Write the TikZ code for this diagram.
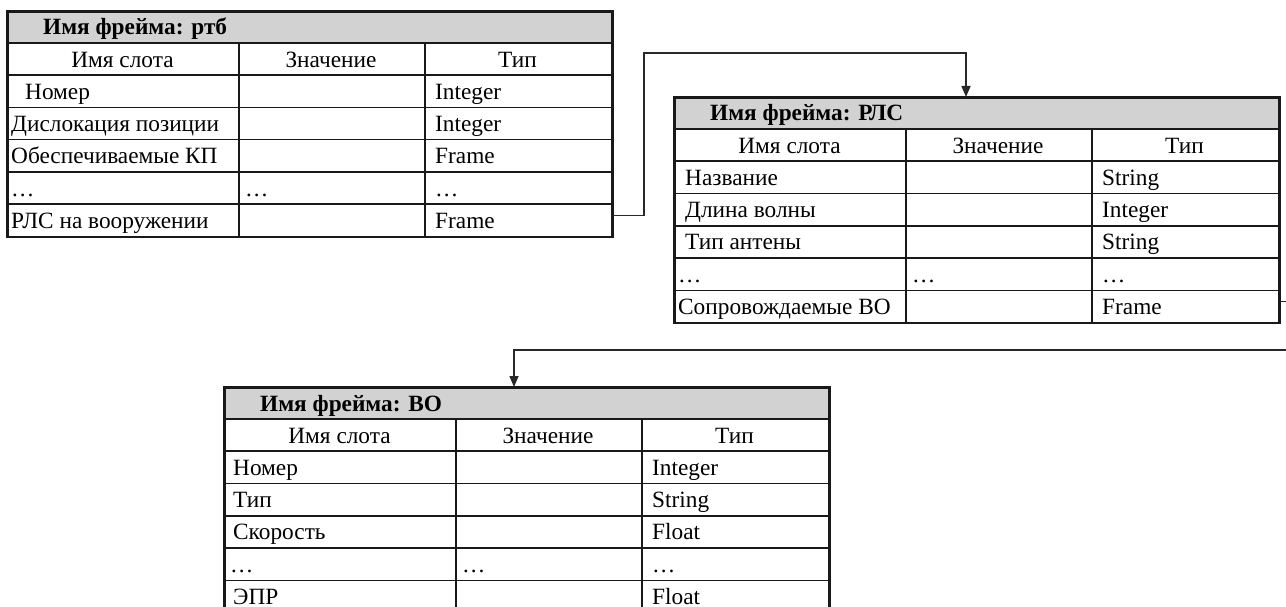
\documentclass[tikz,border=0pt]{standalone}
\usepackage{fontspec}
\setmainfont{Liberation Serif}
\usetikzlibrary{arrows.meta}
\definecolor{hdrgray}{RGB}{210,210,210}
\definecolor{linegray}{RGB}{25,25,25}
\definecolor{conngray}{RGB}{40,40,40}
\tikzset{
  cellbox/.style={draw=linegray, line width=1.6pt, anchor=north west, inner sep=0pt, minimum height=32.3pt},
  hdrbox/.style={draw=linegray, line width=1.6pt, fill=hdrgray, anchor=north west, inner sep=0pt, minimum width=604pt, minimum height=31pt},
  txt/.style={anchor=base west, inner sep=0pt, font=\fontsize{23.3}{27}\selectfont},
  ctxt/.style={anchor=base, inner sep=0pt, font=\fontsize{23.3}{27}\selectfont},
  ttl/.style={anchor=base west, inner sep=0pt, font=\fontsize{23.3}{27}\selectfont\bfseries},
  outer/.style={draw=linegray, line width=2.1pt},
  conn/.style={draw=conngray, line width=1.5pt},
  arr/.style={-{Triangle[length=11pt,width=9pt]}}
}
% #1 name, #2 left, #3 top, #4 title, #5 left pad, #6 rows
\newcommand{\ftable}[6]{%
  \node[hdrbox] (#1h) at (#2,#3) {};
  \node[ttl] (#1ht) at (#2+36,#3+24) {#4};
  \node[cellbox, minimum width=231pt] (#1r1-a) at (#2,#3+31) {};
  \node[cellbox, minimum width=186pt] (#1r1-b) at (#2+231,#3+31) {};
  \node[cellbox, minimum width=187pt] (#1r1-c) at (#2+417,#3+31) {};
  \node[ctxt] (#1r1-at) at (#2+115.5,#3+56.5) {Имя слота};
  \node[ctxt] (#1r1-bt) at (#2+324,#3+56.5) {Значение};
  \node[ctxt] (#1r1-ct) at (#2+510.5,#3+56.5) {Тип};
  \foreach \a/\b/\c [count=\i from 2] in {#6} {
    \pgfmathsetmacro\yy{#3+31+(\i-1)*32.3}
    \node[cellbox, minimum width=231pt] (#1r\i-a) at (#2,\yy) {};
    \node[cellbox, minimum width=186pt] (#1r\i-b) at (#2+231,\yy) {};
    \node[cellbox, minimum width=187pt] (#1r\i-c) at (#2+417,\yy) {};
    \node[txt] (#1r\i-at) at (#2+#5,\yy+25) {\a};
    \node[txt] (#1r\i-bt) at (#2+238,\yy+25) {\b};
    \node[txt] (#1r\i-ct) at (#2+428,\yy+25) {\c};
  }
  \draw[outer] (#1h.north west) rectangle (#1r6-c.south east);
}
\begin{document}
\begin{tikzpicture}[x=1pt,y=-1pt]
\useasboundingbox (0,0) rectangle (1286,607);
\clip (0,0) rectangle (1286,607);
\fill[white] (0,0) rectangle (1286,607);

\ftable{t1}{7}{11}{Имя фрейма: ртб}{4}{
  {\hspace*{14pt}Номер}/{}/{Integer},
  {Дислокация позиции}/{}/{Integer},
  {Обеспечиваемые КП}/{}/{Frame},
  {…}/{…}/{…},
  {РЛС на вооружении}/{}/{Frame}}

\ftable{t2}{674}{97}{Имя фрейма: РЛС}{4}{
  {\hspace*{7pt}Название}/{}/{String},
  {\hspace*{7pt}Длина волны}/{}/{Integer},
  {\hspace*{7pt}Тип антены}/{}/{String},
  {…}/{…}/{…},
  {Сопровождаемые ВО}/{}/{Frame}}

\ftable{t3}{224}{387}{Имя фрейма: ВО}{9}{
  {Номер}/{}/{Integer},
  {Тип}/{}/{String},
  {Скорость}/{}/{Float},
  {\hspace*{-3pt}…}/{…}/{…},
  {ЭПР}/{}/{Float}}

\coordinate (k1) at (644,53);
\coordinate (k2) at (966,53);
\draw[conn,arr] ([yshift=5pt]t1r6-c.east) -| (k1) -- (k2) -- (k2 |- t2h.north);

\coordinate (k3) at (1300,350);
\coordinate (k4) at (514,350);
\draw[conn,arr] ([yshift=5pt]t2r6-c.east) -| (k3) -- (k4) -- (k4 |- t3h.north);
\end{tikzpicture}
\end{document}
